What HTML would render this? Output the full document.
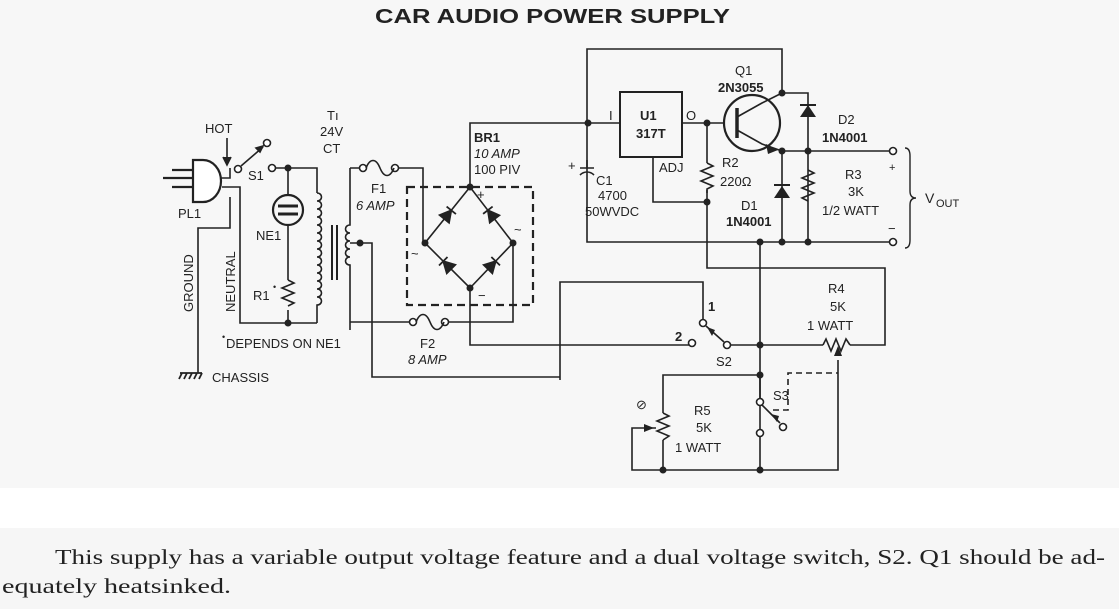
<!DOCTYPE html>
<html><head><meta charset="utf-8"><style>
body{margin:0;width:1119px;height:609px;overflow:hidden;background:#fff}
svg{display:block}
</style></head><body>
<svg width="1119" height="609" xmlns="http://www.w3.org/2000/svg" font-family="Liberation Sans, sans-serif">
<rect x="0" y="0" width="1119" height="488" fill="#f7f7f7"/>
<rect x="0" y="528" width="1119" height="81" fill="#f6f6f6"/>
<text x="375" y="23" font-size="20" font-weight="bold" textLength="355" lengthAdjust="spacingAndGlyphs" fill="#222">CAR AUDIO POWER SUPPLY</text>
<g stroke="#222" stroke-width="1.6" fill="none">
<!-- plug -->
<path d="M193,160 h10 a18,21 0 0 1 0,42 h-10 z" fill="#fff" stroke-width="2.2"/>
<path d="M163,178 h30 M172,170 h21 M172,187 h21" stroke-width="2.2"/>
<path d="M220,178 h10 v-10 M222,187 h18 v136 h77 M230,197 v31 h-32 v145"/>
<path d="M227,138 v25"/><path d="M223,157 l4,8 l4,-8" fill="#222"/>
<circle cx="238" cy="169" r="3.5" fill="#fff"/><circle cx="267" cy="143" r="3.5" fill="#fff"/>
<path d="M241,166 l22,-19"/><path d="M256,148 l7,-2 l-3,6z" fill="#222"/>
<circle cx="272" cy="168" r="3.5" fill="#fff"/>
<path d="M275,168 h42 v25"/>
<path d="M288,168 v27 M288,225 v55 M288,310 v13"/>
<circle cx="288" cy="210" r="15" stroke-width="2.2"/>
<path d="M278,206 h20 M278,214 h20" stroke-width="3"/>
<path d="M288,280 l6,3 l-12,5 l12,5 l-12,5 l12,5 l-6,3"/>
<!-- chassis -->
<path d="M180,373 h22 M182,373 l-3,6 M187,373 l-3,6 M192,373 l-3,6 M197,373 l-3,6 M202,373 l-3,6" stroke-width="1.8"/>
<!-- primary coil -->
<path d="M317,193 c6,0 6,8 0,8 c6,0 6,8 0,8 c6,0 6,8 0,8 c6,0 6,8 0,8 c6,0 6,8 0,8 c6,0 6,8 0,8 c6,0 6,8 0,8 c6,0 6,8 0,8 c6,0 6,8 0,8 c6,0 6,8 0,8 c6,0 6,8 0,8 c6,0 6,8 0,8 c6,0 6,8 0,8 c6,0 6,8 0,8 v18"/>
<path d="M332,225 v55 M337,225 v55" stroke-width="2"/>
<path d="M350,168 v57 c-6,0 -6,8 0,8 c-6,0 -6,8 0,8 c-6,0 -6,8 0,8 c-6,0 -6,8 0,8 c-6,0 -6,8 0,8 v65"/>
<path d="M350,243 h22 v134 h188"/>
<!-- F1 -->
<path d="M350,168 h10 M398,168 h25 v75"/>
<circle cx="363" cy="168" r="3.5" fill="#fff"/><circle cx="395" cy="168" r="3.5" fill="#fff"/>
<path d="M366,168 c4,-10 10,-10 14,0 c4,10 10,10 14,0"/>
<!-- F2 -->
<path d="M350,322 h60 M448,322 h65 v-79"/>
<circle cx="413" cy="322" r="3.5" fill="#fff"/><circle cx="445" cy="322" r="3.5" fill="#fff"/>
<path d="M416,322 c4,-10 10,-10 14,0 c4,10 10,10 14,0"/>
<!-- bridge -->
<rect x="407" y="187" width="126" height="118" stroke-dasharray="8,5" stroke-width="2.2"/>
<path d="M470,187 L425,243 L470,288 L513,243 Z"/>
<path d="M470,187 v-64 h150 M470,288 v57 h222"/>
<!-- main right -->
<path d="M587,123 v-74 h195 v44 M587,123 v119 h303"/>
<path d="M587,160 v8 M580,168 h14 M580,175 c4,-4 10,-4 14,0"/>
<rect x="620" y="92" width="62" height="65" stroke-width="2"/>
<path d="M682,123 h43 M653,157 v45 h54 M707,123 v40 M707,190 v78 h178 v77 h-35"/>
<path d="M707,163 l6,3 l-12,5 l12,5 l-12,5 l12,5 l-6,3 v4"/>
<circle cx="752" cy="123" r="28" stroke-width="2.2"/>
<path d="M737,108 v30" stroke-width="3.5"/>
<path d="M737,117 l25,-14 l20,-10 M737,130 l25,14 l20,7 M782,93 h26 v58 M782,151 h108 M782,151 v91 M808,151 v91"/>
<path d="M808,170 l6,3 l-12,5 l12,5 l-12,5 l12,5 l-12,5 l6,3"/>
<circle cx="893" cy="151" r="3.5" fill="#fff"/><circle cx="893" cy="242" r="3.5" fill="#fff"/>
<path d="M760,242 v228 M727,345 h96"/>
<path d="M823,345 l3,-6 l5,12 l5,-12 l5,12 l5,-12 l4,6"/>
<circle cx="727" cy="345" r="3.5" fill="#fff"/><circle cx="703" cy="323" r="3.5" fill="#fff"/><circle cx="692" cy="343" r="3.5" fill="#fff"/>
<path d="M724,342 l-18,-16"/>
<path d="M560,380 v-98 h143 v38"/>
<!-- S3 R5 -->
<circle cx="760" cy="402" r="3.5" fill="#fff"/><circle cx="783" cy="427" r="3.5" fill="#fff"/><circle cx="760" cy="433" r="3.5" fill="#fff"/>
<path d="M760,375 v24 M762,405 l18,18"/>
<path d="M773,410 h15 v-37 h50" stroke-dasharray="6,4"/>
<path d="M838,360 v110 h-206 v-42 h24"/>
<path d="M760,375 h-97 v38 M663,440 v30"/>
<path d="M663,413 l6,3 l-12,5 l12,5 l-12,5 l12,5 l-6,4"/>
</g>
<g fill="#222">
<g stroke="#222" stroke-width="1.8">
<g transform="translate(447.5,265.5) rotate(-135)"><path d="M-5,-6 L6,0 L-5,6 Z"/><path d="M6,-6 v12" fill="none"/></g>
<g transform="translate(447.5,215) rotate(-51)"><path d="M-5,-6 L6,0 L-5,6 Z"/><path d="M6,-6 v12" fill="none"/></g>
<g transform="translate(491.5,265.5) rotate(-46)"><path d="M-5,-6 L6,0 L-5,6 Z"/><path d="M6,-6 v12" fill="none"/></g>
<g transform="translate(491.5,215) rotate(-127.5)"><path d="M-5,-6 L6,0 L-5,6 Z"/><path d="M6,-6 v12" fill="none"/></g>
</g>
<path d="M800,117 l16,0 l-8,-12z"/><path d="M800,105 h16" stroke="#222" stroke-width="2"/>
<path d="M774,198 l16,0 l-8,-12z"/><path d="M774,185 h16" stroke="#222" stroke-width="2"/>
<path d="M766,144 l12,6 l-10,4z"/>
<path d="M834,356 l4,-10 l4,10z"/><path d="M644,424 l10,4 l-10,4z"/>
<path d="M712,336 l-5,-9 l8,3z"/><path d="M777,422 l-6,-8 l8,2z"/>
<circle cx="288" cy="168" r="3.5"/><circle cx="288" cy="323" r="3.5"/><circle cx="360" cy="243" r="3.5"/>
<circle cx="470" cy="187" r="3.5"/><circle cx="425" cy="243" r="3.5"/><circle cx="513" cy="243" r="3.5"/><circle cx="470" cy="288" r="3.5"/>
<circle cx="588" cy="123" r="3.5"/><circle cx="707" cy="123" r="3.5"/><circle cx="707" cy="202" r="3.5"/>
<circle cx="782" cy="93" r="3.5"/><circle cx="782" cy="151" r="3.5"/><circle cx="808" cy="151" r="3.5"/>
<circle cx="760" cy="242" r="3.5"/><circle cx="782" cy="242" r="3.5"/><circle cx="808" cy="242" r="3.5"/>
<circle cx="760" cy="345" r="3.5"/><circle cx="760" cy="375" r="3.5"/><circle cx="663" cy="470" r="3.5"/><circle cx="760" cy="470" r="3.5"/>
</g>
<g font-size="13" fill="#222">
<text x="205" y="133">HOT</text><text x="248" y="180">S1</text><text x="178" y="218">PL1</text>
<text x="256" y="240">NE1</text><text x="253" y="300">R1</text><text x="273" y="290" font-size="9">•</text>
<text x="327" y="120">Tı</text><text x="320" y="136">24V</text><text x="323" y="153">CT</text>
<text x="371" y="193">F1</text><text x="356" y="210" font-style="italic">6 AMP</text>
<text x="420" y="348">F2</text><text x="408" y="364" font-style="italic">8 AMP</text>
<text x="474" y="142" font-weight="bold">BR1</text><text x="474" y="158" font-style="italic">10 AMP</text><text x="474" y="174">100 PIV</text>
<text x="477" y="199">+</text><text x="478" y="300">−</text><text x="411" y="258">~</text><text x="514" y="234">~</text>
<text x="226" y="348">DEPENDS ON NE1</text><text x="222" y="340" font-size="9">•</text>
<text x="212" y="382">CHASSIS</text>
<text transform="translate(193,312) rotate(-90)">GROUND</text>
<text transform="translate(235,312) rotate(-90)">NEUTRAL</text>
<text x="568" y="170">+</text><text x="596" y="185">C1</text><text x="598" y="200">4700</text><text x="585" y="216">50WVDC</text>
<text x="609" y="120">I</text><text x="686" y="120">O</text>
<text x="640" y="120" font-weight="bold">U1</text><text x="636" y="138" font-weight="bold">317T</text>
<text x="659" y="172">ADJ</text><text x="722" y="167">R2</text><text x="720" y="186">220Ω</text>
<text x="735" y="75">Q1</text><text x="718" y="92" font-weight="bold">2N3055</text>
<text x="838" y="124">D2</text><text x="822" y="142" font-weight="bold">1N4001</text>
<text x="741" y="210">D1</text><text x="726" y="226" font-weight="bold">1N4001</text>
<text x="845" y="179">R3</text><text x="848" y="196">3K</text><text x="822" y="215">1/2 WATT</text>
<text x="889" y="171" font-size="11">+</text><text x="888" y="233">−</text>
<text x="925" y="203" font-size="14">V</text><text x="936" y="207" font-size="11">OUT</text>
<text x="828" y="293">R4</text><text x="830" y="311">5K</text><text x="807" y="330">1 WATT</text>
<text x="708" y="311" font-weight="bold">1</text><text x="675" y="341" font-weight="bold">2</text>
<text x="716" y="366">S2</text><text x="773" y="400">S3</text>
<text x="694" y="415">R5</text><text x="696" y="432">5K</text><text x="675" y="452">1 WATT</text>
<text x="636" y="409">⊘</text>
</g>
<path d="M905,148 q5,0 5,8 v35 q0,7 6,7 q-6,0 -6,7 v35 q0,8 -5,8" stroke="#222" stroke-width="1.4" fill="none"/>
<g font-family="Liberation Serif, serif" font-size="21" fill="#222">
<text x="55" y="564" textLength="1050" lengthAdjust="spacingAndGlyphs">This supply has a variable output voltage feature and a dual voltage switch, S2. Q1 should be ad-</text>
<text x="2" y="593" textLength="229" lengthAdjust="spacingAndGlyphs">equately heatsinked.</text>
</g>
</svg>
</body></html>
